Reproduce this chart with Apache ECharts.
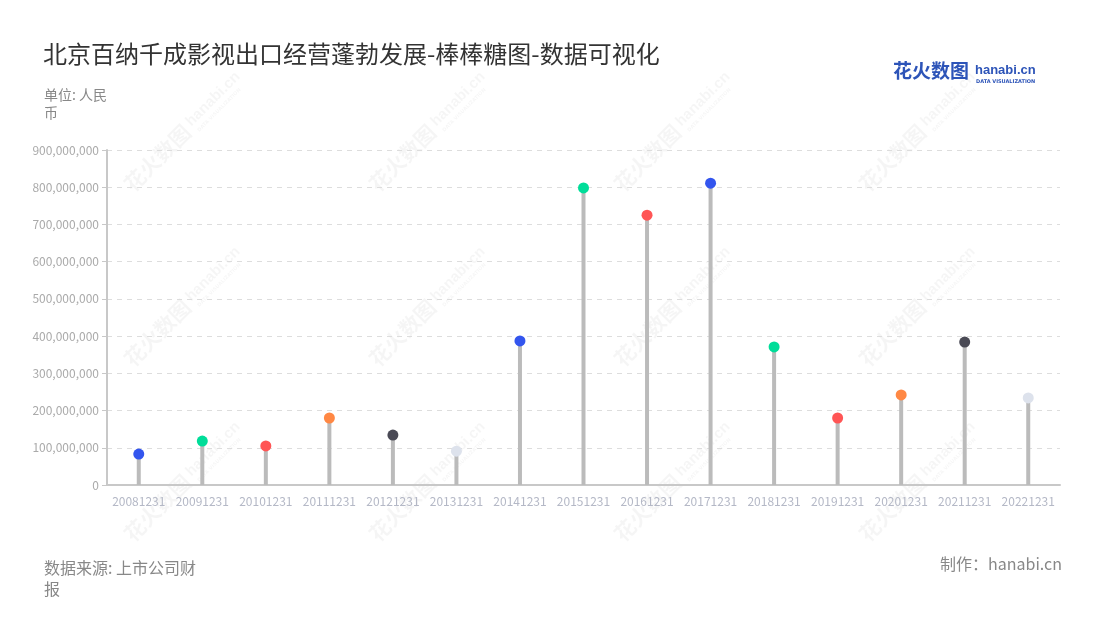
<!DOCTYPE html>
<html>
<head>
<meta charset="utf-8">
<script src="https://cdn.jsdelivr.net/npm/echarts@6/dist/echarts.min.js"></script>
<style>
html,body{margin:0;padding:0;background:#fff;}
#main{width:1100px;height:620px;}
</style>
</head>
<body>
<div id="main"></div>
<script>
const categories = ['20081231','20091231','20101231','20111231','20121231','20131231','20141231','20151231','20161231','20171231','20181231','20191231','20201231','20211231','20221231'];
const values = [83000000,118000000,105000000,180000000,134000000,91000000,387000000,798000000,725000000,811000000,371000000,180000000,242000000,384000000,234000000];
const dotColors = ['#3355ee','#00dd99','#ff5555','#ff8844','#4a4a55','#dde2ec','#3355ee','#00dd99','#ff5555','#3355ee','#00dd99','#ff5555','#ff8844','#4a4a55','#dde2ec'];
const yTicks = [0,100000000,200000000,300000000,400000000,500000000,600000000,700000000,800000000,900000000];

const FONT = '"Noto Sans CJK SC","Noto Sans",sans-serif';
const chart = echarts.init(document.getElementById('main'));

const WM = 'rgba(0,0,0,0.04)';
function watermark(x, y) {
  return {
    type: 'group', x: x, y: y, rotation: Math.PI / 4, z: 0, silent: true,
    children: [
      {type: 'text', x: 0, y: 0, style: {text: '花火数图', font: 'bold 21px ' + FONT, fill: WM, textVerticalAlign: 'bottom'}},
      {type: 'text', x: 88, y: -5, style: {text: 'hanabi.cn', font: 'bold 15px "Liberation Sans",sans-serif', fill: WM, textVerticalAlign: 'bottom'}},
      {type: 'text', x: 90, y: 2, style: {text: 'DATA VISUALIZATION', font: 'bold 5px "DejaVu Sans",sans-serif', fill: WM, textVerticalAlign: 'bottom'}}
    ]
  };
}
const wmX = [135, 380, 625, 870];
const wmY = [195, 370, 545];
const wmGraphics = [];
wmX.forEach(x => wmY.forEach(y => wmGraphics.push(watermark(x, y))));

chart.setOption({
  backgroundColor: '#fff',
  animation: false,
  title: {
    text: '北京百纳千成影视出口经营蓬勃发展-棒棒糖图-数据可视化',
    left: 38, top: 37,
    textStyle: {fontFamily: FONT, fontSize: 24, fontWeight: 'normal', color: '#333'}
  },
  graphic: wmGraphics.concat([
    {type: 'text', left: 44, top: 86, style: {text: '单位: 人民\n币', font: '14px ' + FONT, fill: '#888', lineHeight: 18}},
    {type: 'text', left: 44, top: 557, style: {text: '数据来源: 上市公司财\n报', font: '16px ' + FONT, fill: '#888', lineHeight: 21}},
    {type: 'text', right: 38, top: 556, style: {text: '制作：hanabi.cn', font: '16px ' + FONT, fill: '#888'}},
    {type: 'text', left: 893, top: 61, style: {text: '花火数图', font: 'bold 19px ' + FONT, fill: '#2d54b8'}},
    {type: 'text', left: 975, top: 64, style: {text: 'hanabi.cn', font: 'bold 13px "Liberation Sans",sans-serif', fill: '#2d54b8'}},
    {type: 'text', left: 976, top: 79, style: {text: 'DATA VISUALIZATION', font: 'bold 5px "DejaVu Sans",sans-serif', fill: '#2d54b8'}}
  ]),
  grid: {left: 107, right: 40, top: 150, bottom: 135},
  xAxis: {
    type: 'category',
    data: categories,
    axisLine: {lineStyle: {color: '#c8c8c8', width: 2}},
    axisTick: {alignWithLabel: true, lineStyle: {color: '#c8c8c8'}},
    axisLabel: {color: '#b4b8c6', fontSize: 12, fontFamily: FONT, interval: 0, margin: 10}
  },
  yAxis: {
    type: 'value',
    min: 0, max: 900000000, interval: 100000000,
    axisLine: {show: true, lineStyle: {color: '#c8c8c8', width: 2}},
    axisTick: {show: true, lineStyle: {color: '#c8c8c8'}},
    splitLine: {lineStyle: {color: '#dddddd', type: [5, 5]}},
    axisLabel: {
      color: '#aaaaaa', fontSize: 12, fontFamily: FONT, margin: 8,
      formatter: v => yTicks.includes(v) ? v.toLocaleString('en-US') : ''
    }
  },
  series: [
    {
      type: 'bar',
      data: values,
      barWidth: 4,
      itemStyle: {color: '#bbbbbb'},
      z: 2
    },
    {
      type: 'scatter',
      data: values.map((v, i) => ({value: v, itemStyle: {color: dotColors[i], opacity: 1}})),
      symbolSize: 11,
      z: 3
    }
  ]
});
</script>
</body>
</html>
